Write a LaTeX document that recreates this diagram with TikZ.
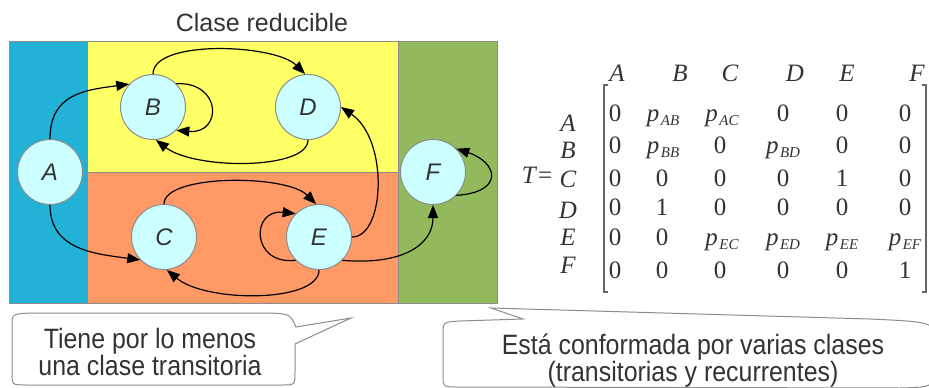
\documentclass[tikz,border=0pt]{standalone}
\usepackage{fontspec}
\setmainfont{Liberation Sans}
\newfontfamily\matfont{Liberation Serif}
\newfontfamily\bubblefont[FakeStretch=0.89]{Liberation Sans}
\usepackage{xcolor}
\usepackage{tikz}
\usetikzlibrary{
arrows.meta,
positioning
}
\definecolor{zoneblue}{HTML}{22B2D8}
\definecolor{zoneyellow}{HTML}{FFFF66}
\definecolor{zoneorange}{HTML}{FF9966}
\definecolor{zonegreen}{HTML}{92BA5C}
\definecolor{statecyan}{HTML}{CCFFFF}
\definecolor{inkgray}{HTML}{333333}
\definecolor{edgegray}{HTML}{8C8C8C}

% p with a lowered subscript
\newcommand{\pp}[1]{\textit{p}\kern1.5pt\raisebox{-4pt}{\fontsize{15}{15}\selectfont\textit{#1}}}

\begin{document}
\begin{tikzpicture}[
  x=1pt, y=-1pt,
  >={Triangle[length=13pt, width=10pt]},
  state/.style={circle, draw=edgegray, line width=1pt, fill=statecyan, minimum size=65pt, inner sep=0pt, text=inkgray, font=\fontsize{24}{24}\selectfont\itshape},
  trans/.style={->, line width=1.2pt},
  zone/.style={draw=edgegray, line width=1pt},
  bubble/.style={draw=edgegray, line width=1pt},
  bubbletext/.style={align=center, text=inkgray, inner sep=0pt},
  entry/.style={anchor=base, inner sep=0pt, text=inkgray, font=\matfont\fontsize{25}{25}\selectfont},
  bracket/.style={line width=2pt, draw=inkgray!75}
]
\useasboundingbox (0,0) rectangle (929,388);

% Title
\node[text=inkgray, font=\fontsize{25}{25}\selectfont] (title) at (262,23) {Clase reducible};

% Classes
\filldraw[zone, fill=zoneblue] (9,41) rectangle (87,303);
\filldraw[zone, fill=zoneyellow] (87,41) rectangle (398,172);
\filldraw[zone, fill=zoneorange] (87,172) rectangle (398,303);
\filldraw[zone, fill=zonegreen] (398,41) rectangle (497,303);

% States
\node[state] (A) at (50,172) {A};
\node[state] (B) at (153,107) {B};
\node[state] (D) at (308,107) {D};
\node[state] (C) at (164,237) {C};
\node[state] (E) at (319,237) {E};
\node[state] (F) at (433,172) {F};

% Transitions
\draw[trans] (A.north) .. controls +(0,-45) and +(-45,6) .. (B.136);
\draw[trans] (A.south) .. controls +(0,45) and +(-45,-6) .. (C.224);
\draw[trans] (B.north) .. controls +(0,-35) and +(-30,-30) .. (D.95);
\draw[trans] (B.45) .. controls +(46,-2) and +(46,4) .. (B.-45);
\draw[trans] (D.south) .. controls +(0,30) and +(39,30) .. (B.-85);
\draw[trans] (C.north) .. controls +(0,-30) and +(-30,-30) .. (E.95);
\draw[trans] (E.south) .. controls +(0,33) and +(39,33) .. (C.-85);
\draw[trans] (E.225) .. controls +(-45,5) and +(-45,-5) .. (E.135);
\draw[trans] (E.east) .. controls +(33,0) and +(48,33) .. (D.east);
\draw[trans] (E.-45) .. controls +(60,5) and +(0,40) .. (F.south);
\draw[trans] (F.-45) .. controls +(48,-3) and +(42,14) .. (F.45);

% Transition matrix
\node[entry] (T) at (537,183) {\textit{T}\kern1pt=};
\foreach \lbl/\x in {A/617,B/680,C/730,D/795,E/847,F/917}
  \node[entry] (h\lbl) at (\x,81) {\textit{\lbl}};
\foreach \lbl/\y in {A/131,B/158,C/187,D/218,E/245,F/273}
  \node[entry] (r\lbl) at (568,\y) {\textit{\lbl}};
\foreach \x/\val [count=\c] in {615/0,663/\pp{AB},722/\pp{AC},783/0,842/0,905/0}
  \node[entry] (mA\c) at (\x,121) {\val};
\foreach \x/\val [count=\c] in {615/0,663/\pp{BB},720/0,783/\pp{BD},842/0,905/0}
  \node[entry] (mB\c) at (\x,153) {\val};
\foreach \x/\val [count=\c] in {615/0,662/0,720/0,783/0,842/1,905/0}
  \node[entry] (mC\c) at (\x,186) {\val};
\foreach \x/\val [count=\c] in {615/0,662/1,720/0,783/0,842/0,905/0}
  \node[entry] (mD\c) at (\x,215) {\val};
\foreach \x/\val [count=\c] in {615/0,662/0,722/\pp{EC},783/\pp{ED},842/\pp{EE},905/\pp{EF}}
  \node[entry] (mE\c) at (\x,245) {\val};
\foreach \x/\val [count=\c] in {615/0,662/0,720/0,783/0,842/0,905/1}
  \node[entry] (mF\c) at (\x,278) {\val};
\draw[bracket] (608,85) -- (604,85) -- (604,292) -- (608,292);
\draw[bracket] (922,85) -- (926,85) -- (926,292) -- (922,292);

% Callouts
\draw[bubble] (12,326) .. controls (12,314) .. (30,313) -- (270,313)
  .. controls (290,314) .. (296,327) -- (351,318) -- (295,344) -- (295,372)
  .. controls (295,385) .. (282,385) -- (26,385) .. controls (12,385) .. (12,372) -- cycle;
\node[bubbletext, font=\bubblefont\fontsize{28}{26}\selectfont] (noteL) at (150,352) {Tiene por lo menos\\una clase transitoria};

\draw[bubble] (491,308) -- (523,319) -- (460,321) .. controls (443,322) .. (443,334)
  -- (443,376) .. controls (443,387) .. (458,387) -- (900,388)
  .. controls (935,387) .. (940,360) -- (940,345) .. controls (935,322) .. (870,319) -- cycle;
\node[bubbletext, font=\bubblefont\fontsize{28}{24}\selectfont] (noteR) at (693,361) {Está conformada por varias clases\\(transitorias y recurrentes)};

\end{tikzpicture}
\end{document}
